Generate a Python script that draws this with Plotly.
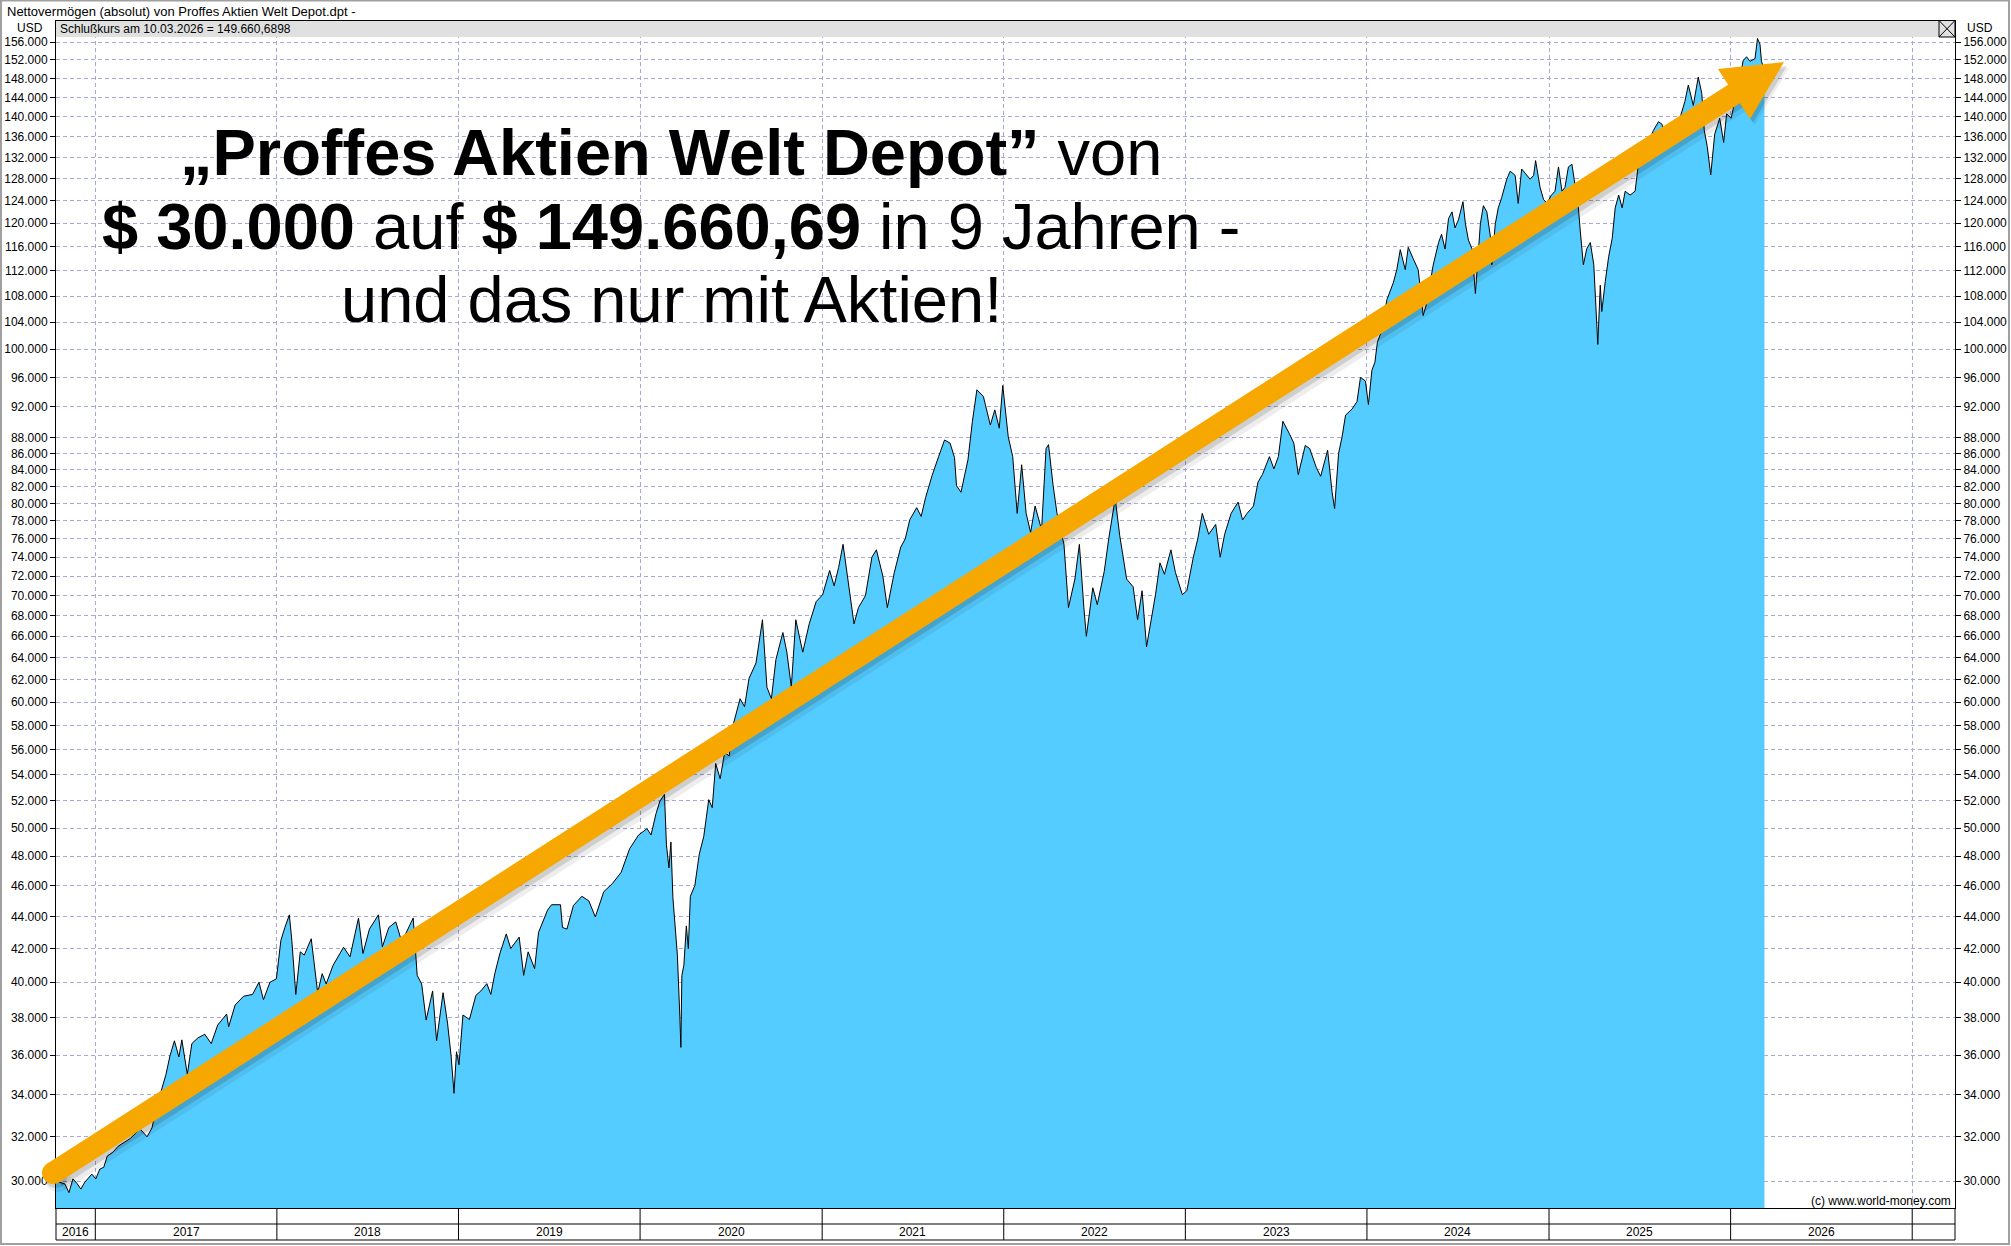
import plotly.graph_objects as go
import pandas as pd
import math

# ---------------- data ----------------
dates = [
    "2016-10-14", "2016-10-22", "2016-11-01", "2016-11-09", "2016-11-17", "2016-11-25", "2016-12-03",
    "2016-12-11", "2016-12-25",
    "2017-01-02", "2017-01-10", "2017-01-18", "2017-01-25", "2017-02-06", "2017-02-16", "2017-03-12",
    "2017-04-01", "2017-04-15", "2017-04-25", "2017-05-03", "2017-05-14", "2017-05-23", "2017-05-31",
    "2017-06-09", "2017-06-18", "2017-06-24", "2017-07-05", "2017-07-14", "2017-07-26", "2017-08-09",
    "2017-08-22", "2017-09-04", "2017-09-22", "2017-09-26", "2017-10-09", "2017-10-26", "2017-11-13",
    "2017-11-26", "2017-12-05", "2017-12-18", "2017-12-31",
    "2018-01-09", "2018-01-17", "2018-01-26", "2018-01-31", "2018-02-08", "2018-02-17", "2018-02-25",
    "2018-03-11", "2018-03-17", "2018-03-24", "2018-04-02", "2018-04-10", "2018-04-24", "2018-05-06",
    "2018-05-15", "2018-05-28", "2018-06-14", "2018-06-23", "2018-07-06", "2018-07-24", "2018-08-01",
    "2018-08-14", "2018-08-28", "2018-09-09", "2018-09-21", "2018-10-02", "2018-10-10", "2018-10-19",
    "2018-10-28", "2018-11-10", "2018-11-18", "2018-12-01", "2018-12-10", "2018-12-17", "2018-12-23",
    "2018-12-28",
    "2019-01-02", "2019-01-10", "2019-01-23", "2019-02-05", "2019-02-15", "2019-02-27", "2019-03-07",
    "2019-03-15", "2019-03-25", "2019-04-07", "2019-04-16", "2019-05-03", "2019-05-12", "2019-05-21",
    "2019-06-03", "2019-06-11", "2019-06-29", "2019-07-07", "2019-07-25", "2019-07-29", "2019-08-07",
    "2019-08-20", "2019-09-06", "2019-09-20", "2019-10-03", "2019-10-20", "2019-11-06", "2019-11-24",
    "2019-12-11", "2019-12-29",
    "2020-01-15", "2020-01-23", "2020-02-02", "2020-02-10", "2020-02-19", "2020-02-23", "2020-02-28",
    "2020-03-03", "2020-03-07", "2020-03-16", "2020-03-21", "2020-03-23", "2020-03-25", "2020-03-29",
    "2020-04-03", "2020-04-07", "2020-04-11", "2020-04-20", "2020-04-29", "2020-05-08", "2020-05-18",
    "2020-05-25", "2020-06-01", "2020-06-10", "2020-06-19", "2020-06-28", "2020-07-07", "2020-07-20",
    "2020-07-29", "2020-08-07", "2020-08-21", "2020-09-03", "2020-09-12", "2020-09-21", "2020-09-30",
    "2020-10-14", "2020-10-22", "2020-10-31", "2020-11-09", "2020-11-23", "2020-12-06", "2020-12-20",
    "2021-01-02", "2021-01-16", "2021-01-25", "2021-02-03", "2021-02-12", "2021-02-18", "2021-02-25",
    "2021-03-06", "2021-03-15", "2021-03-29", "2021-04-11", "2021-04-20", "2021-05-03", "2021-05-12",
    "2021-05-26", "2021-06-08", "2021-06-17", "2021-06-26", "2021-07-10", "2021-07-19", "2021-07-28",
    "2021-08-10", "2021-08-23", "2021-09-04", "2021-09-15", "2021-09-24", "2021-09-28", "2021-10-07",
    "2021-10-21", "2021-10-30", "2021-11-08", "2021-11-21", "2021-12-05", "2021-12-14", "2021-12-23",
    "2021-12-30",
    "2022-01-10", "2022-01-19", "2022-01-28", "2022-02-06", "2022-02-15", "2022-02-24", "2022-03-05",
    "2022-03-18", "2022-03-27", "2022-04-01", "2022-04-10", "2022-04-18", "2022-05-02", "2022-05-11",
    "2022-05-24", "2022-06-02", "2022-06-11", "2022-06-16", "2022-06-29", "2022-07-08", "2022-07-22",
    "2022-07-31", "2022-08-13", "2022-08-22", "2022-09-05", "2022-09-18", "2022-09-27", "2022-10-06",
    "2022-10-15", "2022-10-24", "2022-11-02", "2022-11-11", "2022-11-20", "2022-12-03", "2022-12-12",
    "2022-12-26",
    "2023-01-04", "2023-01-17", "2023-01-26", "2023-02-04", "2023-02-17", "2023-03-03", "2023-03-12",
    "2023-03-21", "2023-04-03", "2023-04-17", "2023-04-26", "2023-05-05", "2023-05-18", "2023-05-27",
    "2023-06-05", "2023-06-19", "2023-06-28", "2023-07-07", "2023-07-16", "2023-07-29", "2023-08-07",
    "2023-08-16", "2023-08-30", "2023-09-08", "2023-09-21", "2023-09-30", "2023-10-14", "2023-10-23",
    "2023-10-28", "2023-11-05", "2023-11-12", "2023-11-19", "2023-12-02", "2023-12-12", "2023-12-19",
    "2023-12-29",
    "2024-01-04", "2024-01-11", "2024-01-17", "2024-01-22", "2024-01-31", "2024-02-10", "2024-02-23",
    "2024-03-01", "2024-03-08", "2024-03-18", "2024-03-24", "2024-04-03", "2024-04-13", "2024-04-20",
    "2024-04-23", "2024-04-30", "2024-05-13", "2024-05-24", "2024-05-30", "2024-06-06", "2024-06-13",
    "2024-06-20", "2024-06-26", "2024-07-03", "2024-07-12", "2024-07-17", "2024-07-23", "2024-07-30",
    "2024-08-06", "2024-08-16", "2024-08-22", "2024-08-29", "2024-09-05", "2024-09-08", "2024-09-15",
    "2024-09-21", "2024-09-28", "2024-10-08", "2024-10-15", "2024-10-25", "2024-10-31", "2024-11-07",
    "2024-11-17", "2024-11-24", "2024-12-01", "2024-12-05", "2024-12-14", "2024-12-21", "2024-12-28",
    "2025-01-05", "2025-01-13", "2025-01-20", "2025-01-27", "2025-02-02", "2025-02-09", "2025-02-16",
    "2025-02-23", "2025-03-01", "2025-03-05", "2025-03-11", "2025-03-18", "2025-03-25", "2025-04-01",
    "2025-04-06", "2025-04-09", "2025-04-14", "2025-04-17", "2025-04-24", "2025-05-01", "2025-05-08",
    "2025-05-14", "2025-05-21", "2025-05-28", "2025-06-03", "2025-06-13", "2025-06-23", "2025-06-27",
    "2025-06-30", "2025-07-10", "2025-07-20", "2025-07-30", "2025-08-09", "2025-08-16", "2025-08-22",
    "2025-09-01", "2025-09-11", "2025-09-21", "2025-10-01", "2025-10-08", "2025-10-18", "2025-10-28",
    "2025-11-04", "2025-11-09", "2025-11-15", "2025-11-22", "2025-11-30", "2025-12-10", "2025-12-18",
    "2025-12-24",
    "2026-01-02", "2026-01-13", "2026-01-20", "2026-01-26", "2026-02-02", "2026-02-09", "2026-02-19",
    "2026-02-24", "2026-03-01", "2026-03-04", "2026-03-10",
]

values = [
    30000, 29950, 29870, 29500, 30090, 29900, 29650,
    29950, 30300,
    30090, 30520, 30600, 31100, 31290, 31550, 31900,
    32350, 31980, 32400, 33300, 34200, 35000, 35950,
    36750, 35900, 36800, 35000, 36600, 36900, 37100,
    36600, 37600, 38200, 37500, 38700, 39200, 39300,
    40000, 39000, 40000, 40200,
    42500, 43300, 44100, 42500, 39300, 41800, 41600,
    42600, 41000, 39400, 40500, 39900, 41000, 41600,
    42080, 41500, 43900, 41700, 43200, 44100, 42100,
    43300, 43650, 42400, 43200, 43900, 40400, 39900,
    37870, 39500, 36750, 39400, 37700, 36000, 34060,
    36170,
    35500, 38150, 37900, 39250, 39500, 39920, 39300,
    40500, 41680, 42900, 42000, 42700, 40400, 41800,
    40800, 43000, 44400, 44750, 44750, 43300, 43200,
    44700, 45300, 45000, 43970, 45600, 46130, 46900,
    48530, 49500,
    49960, 49500, 51060, 52000, 52500, 48800, 47200,
    49000, 45200, 41600, 38000, 36400, 40400, 41000,
    43400, 42000, 45300, 46000, 48150, 49400, 52100,
    51500, 54900, 53700, 55800, 55500, 58200, 60300,
    59600, 62100, 63500, 67600, 61300, 60300, 63810,
    66360, 64500, 61340, 67600, 64500, 67200, 69400,
    70100, 72600, 71000, 72900, 75400, 73000, 70800,
    67200, 68800, 70000, 74010, 74800, 72000, 68800,
    72390, 75100, 76000, 78110, 79510, 78500, 80700,
    83310, 85600, 87690, 87300, 85500, 82080, 81300,
    85200, 90100, 94300, 93400, 89600, 91600, 89200,
    94880,
    88100, 85600, 78850, 84600, 78850, 76700, 79700,
    77000, 86600, 87100, 82200, 78850, 75400, 68800,
    71700, 75400, 68800, 66000, 70800, 69100, 72500,
    76000, 80600, 76400, 71700, 70900, 67600, 70500,
    65000, 67600, 70100, 73400, 72200, 74800, 72400,
    70100,
    70500, 74000, 76000, 78850, 76500, 77600, 74000,
    76500, 78850, 80150, 78100, 78850, 79700, 82500,
    83420, 85600, 84100, 85600, 90100, 88500, 87300,
    83400, 87000, 86600, 84300, 83200, 86400, 81300,
    79400, 86000, 88100, 90900, 91700, 92700, 96000,
    95500,
    92300, 97000, 98130, 101000, 102800, 107400, 110100,
    112200, 115500, 112200, 115900, 114000, 112200, 107300,
    105000, 106800, 112900, 116700, 118100, 115600, 120800,
    122000, 119200, 120600, 123800, 119900, 117100, 115700,
    108400, 119900, 123100, 122000, 117800, 113000, 119900,
    122700, 124600, 127900, 129400, 128600, 123500, 129800,
    128600, 127900, 128600, 131400, 126400, 124200, 123500,
    124900, 125700, 130200, 125700, 126400, 130200, 130700,
    126400, 122700, 118500, 113000, 115700, 116700, 113000,
    105900, 100700, 109700, 105600, 110300, 114400, 117400,
    122700, 125000, 122700, 125700, 125000, 125700, 128700,
    131000, 133300, 134900, 137300, 139000, 138500, 136500,
    138200, 137500, 139700, 143100, 146600, 142300, 148300,
    144800, 137300, 134100, 128700, 136500, 139700, 134900,
    140600,
    139700, 144800, 148000, 151800, 152700, 151700, 152300,
    156800, 155500, 151700, 149661,
]

y_tick_values = [30000, 32000, 34000, 36000, 38000, 40000, 42000, 44000, 46000, 48000,
                 50000, 52000, 54000, 56000, 58000, 60000, 62000, 64000, 66000, 68000,
                 70000, 72000, 74000, 76000, 78000, 80000, 82000, 84000, 86000, 88000,
                 92000, 96000, 100000, 104000, 108000, 112000, 116000, 120000, 124000,
                 128000, 132000, 136000, 140000, 144000, 148000, 152000, 156000]
y_tick_text = [f"{v:,}".replace(",", ".") for v in y_tick_values]
year_labels = list(range(2016, 2027))
year_bounds = [f"{y}-01-01" for y in range(2017, 2028)]
x_range = ["2016-10-14", "2027-03-28"]
y_range = [28850, 161050]

# ---------------- layout helpers ----------------
W, H = 2011, 1246
ML, MR, MT, MB = 56, 56, 20, 38
PW, PH = W - ML - MR, H - MT - MB


def px(x):
    return (x - ML) / PW


def py(y):
    return (H - MB - y) / PH


FONT = "Liberation Sans, Arial, sans-serif"
GRID = "#A9A9D6"
BLUE = "#55CCFF"
ORANGE = "#F6A800"

ylog = [math.log10(y_range[0]), math.log10(y_range[1])]

fig = go.Figure()
# baseline for the area fill (below the visible range)
fig.add_trace(go.Scatter(x=[dates[0], dates[-1]], y=[y_range[0] / 2] * 2, mode="lines",
                         line=dict(width=0, color="rgba(0,0,0,0)"), hoverinfo="skip",
                         showlegend=False))
fig.add_trace(go.Scatter(x=dates, y=values, mode="lines", fill="tonexty", fillcolor=BLUE,
                         line=dict(color="black", width=1), showlegend=False,
                         name="Nettovermögen"))
# dummy trace so the right-hand axis is drawn
fig.add_trace(go.Scatter(x=[dates[0]], y=[values[0]], yaxis="y2", mode="markers",
                         marker=dict(opacity=0), hoverinfo="skip", showlegend=False))

axis_font = dict(family=FONT, size=12, color="black")
fig.update_layout(
    width=W, height=H, margin=dict(l=ML, r=MR, t=MT, b=MB, pad=0, autoexpand=False),
    paper_bgcolor="white", plot_bgcolor="white", showlegend=False,
    xaxis=dict(type="date", range=x_range, tickvals=year_bounds, showticklabels=False,
               ticks="", showgrid=True, gridcolor=GRID, griddash="4px,3px", gridwidth=1,
               showline=True, linecolor="black", linewidth=1, zeroline=False, automargin=False),
    yaxis=dict(type="log", range=ylog, tickvals=y_tick_values, ticktext=y_tick_text,
               ticks="outside", ticklen=5, tickcolor="black", tickfont=axis_font,
               showgrid=True, gridcolor=GRID, griddash="4px,3px", gridwidth=1,
               showline=True, linecolor="black", linewidth=1, zeroline=False, automargin=False),
    yaxis2=dict(type="log", range=ylog, tickvals=y_tick_values, ticktext=y_tick_text,
                overlaying="y", side="right", ticks="outside", ticklen=5, tickcolor="black",
                tickfont=axis_font, showgrid=False, showline=True, linecolor="black",
                linewidth=1, zeroline=False, automargin=False),
)

shapes = []
# header bar inside the plot
shapes.append(dict(type="rect", xref="paper", yref="paper", x0=0, x1=1, y0=py(37), y1=py(20),
                   fillcolor="#E0E0E0", line=dict(width=0), layer="above"))
shapes.append(dict(type="line", xref="paper", yref="paper", x0=0, x1=1, y0=py(20.5), y1=py(20.5),
                   line=dict(color="black", width=1), layer="above"))
shapes.append(dict(type="rect", xref="paper", yref="paper", x0=px(1939), x1=px(1955),
                   y0=py(37), y1=py(20.5), line=dict(color="black", width=1), layer="above"))
shapes.append(dict(type="line", xref="paper", yref="paper", x0=px(1939), x1=px(1955),
                   y0=py(37), y1=py(20.5), line=dict(color="black", width=1), layer="above"))
shapes.append(dict(type="line", xref="paper", yref="paper", x0=px(1939), x1=px(1955),
                   y0=py(20.5), y1=py(37), line=dict(color="black", width=1), layer="above"))

# bottom year band
for yy in (1224, 1240):
    shapes.append(dict(type="line", xref="paper", yref="paper", x0=0, x1=1, y0=py(yy), y1=py(yy),
                       line=dict(color="black", width=1)))
for xx in (0, 1):
    shapes.append(dict(type="line", xref="paper", yref="paper", x0=xx, x1=xx, y0=py(1208),
                       y1=py(1240), line=dict(color="black", width=1)))
for b in year_bounds:
    shapes.append(dict(type="line", xref="x", yref="paper", x0=b, x1=b, y0=py(1208),
                       y1=py(1240), line=dict(color="black", width=1)))

# outer frame
shapes.append(dict(type="rect", xref="paper", yref="paper", x0=px(1), x1=px(2009),
                   y0=py(1244), y1=py(0.5), line=dict(color="#A0A0A0", width=2)))

# orange trend arrow (pixel geometry converted to paper coords)
S = (53, 1173)
Bk = (1734, 94)
T = (1784, 62)
C1 = (1718, 69)
C2 = (1750, 119)
dx, dy = Bk[0] - S[0], Bk[1] - S[1]
ln = (dx * dx + dy * dy) ** 0.5
E = (Bk[0] + 6 * dx / ln, Bk[1] + 6 * dy / ln)


def tri_path(pts, off=(0, 0)):
    p = [f"{px(x + off[0])},{py(y + off[1])}" for x, y in pts]
    return "M " + " L ".join(p) + " Z"


for off, col, wd in (((5, 6), "rgba(0,0,0,0.07)", 26), ((3, 4), "rgba(0,0,0,0.13)", 22)):
    shapes.append(dict(type="line", xref="paper", yref="paper",
                       x0=px(S[0] + off[0]), y0=py(S[1] + off[1]),
                       x1=px(E[0] + off[0]), y1=py(E[1] + off[1]),
                       line=dict(color=col, width=wd), layer="above"))
    shapes.append(dict(type="path", xref="paper", yref="paper", path=tri_path([T, C1, C2], off),
                       fillcolor=col, line=dict(width=0), layer="above"))
    r = wd / 2
    shapes.append(dict(type="circle", xref="paper", yref="paper",
                       x0=px(S[0] + off[0] - r), x1=px(S[0] + off[0] + r),
                       y0=py(S[1] + off[1] + r), y1=py(S[1] + off[1] - r),
                       fillcolor=col, line=dict(width=0), layer="above"))

shapes.append(dict(type="line", xref="paper", yref="paper", x0=px(S[0]), y0=py(S[1]),
                   x1=px(E[0]), y1=py(E[1]), line=dict(color=ORANGE, width=22), layer="above"))
shapes.append(dict(type="circle", xref="paper", yref="paper", x0=px(S[0] - 11), x1=px(S[0] + 11),
                   y0=py(S[1] + 11), y1=py(S[1] - 11), fillcolor=ORANGE, line=dict(width=0),
                   layer="above"))
shapes.append(dict(type="path", xref="paper", yref="paper", path=tri_path([T, C1, C2]),
                   fillcolor=ORANGE, line=dict(width=0), layer="above"))

fig.update_layout(shapes=shapes)

ann = []
small = dict(family=FONT, size=12, color="black")
ann.append(dict(xref="paper", yref="paper", x=px(5), y=py(11), xanchor="left", yanchor="middle",
                text="Nettovermögen (absolut) von Proffes Aktien Welt Depot.dpt -", showarrow=False,
                font=dict(family=FONT, size=13, color="black")))
ann.append(dict(xref="paper", yref="paper", x=px(58), y=py(29), xanchor="left", yanchor="middle",
                text="Schlußkurs am 10.03.2026 = 149.660,6898", showarrow=False, font=small))
ann.append(dict(xref="paper", yref="paper", x=px(30), y=py(28), xanchor="center", yanchor="middle",
                text="USD", showarrow=False, font=small))
ann.append(dict(xref="paper", yref="paper", x=px(1980), y=py(28), xanchor="center",
                yanchor="middle", text="USD", showarrow=False, font=small))
ann.append(dict(xref="paper", yref="paper", x=px(1953), y=py(1201), xanchor="right",
                yanchor="middle", text="(c) www.world-money.com", showarrow=False, font=small))

# year labels centred in their (clipped) segments
r0, r1 = pd.Timestamp(x_range[0]), pd.Timestamp(x_range[1])
for yl in year_labels:
    a = max(pd.Timestamp(f"{yl}-01-01"), r0)
    b = min(pd.Timestamp(f"{yl + 1}-01-01"), r1)
    mid = a + (b - a) / 2
    ann.append(dict(xref="x", yref="paper", x=mid.strftime("%Y-%m-%d %H:%M"), y=py(1232),
                    xanchor="center", yanchor="middle", text=str(yl), showarrow=False, font=small))

big = dict(family=FONT, size=65, color="black")
title_lines = [
    ("<b>„Proffes Aktien Welt Depot”</b> von", 153),
    ("<b>$ 30.000</b> auf <b>$ 149.660,69</b> in 9 Jahren -", 227),
    ("und das nur mit Aktien!", 299),
]
for txt, yc in title_lines:
    ann.append(dict(xref="paper", yref="paper", x=px(671), y=py(yc), xanchor="center",
                    yanchor="middle", text=txt, showarrow=False, font=big))

fig.update_layout(annotations=ann)

fig.write_html("out.html", config={"displayModeBar": False},
               post_script="document.body.style.margin='0px';document.body.style.overflow='hidden';")
